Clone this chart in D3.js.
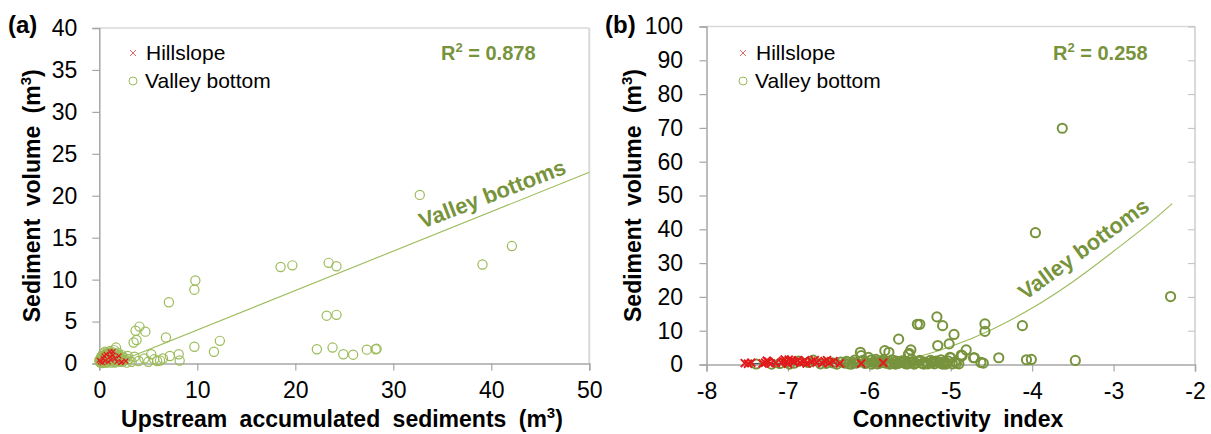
<!DOCTYPE html>
<html><head><meta charset="utf-8">
<script src="https://cdn.jsdelivr.net/npm/d3@7"></script>
<style>body{margin:0;background:#fff}svg{display:block;font-family:"Liberation Sans",Arial,sans-serif}</style>
</head><body><svg id="c" width="1211" height="434"></svg>
<script>
// ---------- data ----------
const xTicksA = [0,10,20,30,40,50];
const yTicksA = [0,5,10,15,20,25,30,35,40];
const xTicksB = [-8,-7,-6,-5,-4,-3,-2];
const yTicksB = [0,10,20,30,40,50,60,70,80,90,100];

const valleyA = [
 [32.7,20.1],[18.5,11.5],[19.7,11.7],[23.4,12.0],[24.2,11.6],[39.1,11.8],[42.1,14.0],[23.2,5.7],[24.2,5.8],
 [22.2,1.7],[23.8,1.9],[24.9,1.1],[25.9,1.05],[27.3,1.65],[28.2,1.7],[28.3,1.75],
 [9.8,9.9],[9.7,8.8],[7.1,7.3],[4.1,4.4],[3.7,3.9],[4.7,3.8],[3.8,2.8],[3.5,2.5],[6.8,3.1],[9.7,2.0],
 [12.3,2.7],[11.7,1.4],[1.7,1.9],[5.3,1.1],[8.1,1.1],[7.2,0.9],[8.2,0.35],[6.2,0.35],[5.6,0.5],[5.9,0.3],
 [6.5,0.6],[4.0,0.3],[3.0,0.5],[2.5,0.7],[4.6,0.6],[5.0,0.2],[3.6,0.8],[2.9,0.9],
 [0.1,0.1],[0.2,0.3],[0.3,0.05],[0.4,0.5],[0.5,0.2],[0.6,0.8],[0.7,0.4],[0.8,0.1],[0.9,0.6],[1.0,1.0],
 [1.1,0.3],[1.2,0.7],[1.3,1.2],[1.4,0.5],[1.5,0.2],[1.6,0.9],[1.7,0.4],[1.8,1.1],[1.9,0.6],[2.0,0.3],
 [2.1,0.8],[2.2,0.5],[2.3,1.0],[2.4,0.2],[0.3,0.7],[0.5,1.0],[0.8,1.3],[1.0,0.5],[1.2,0.1],[1.4,0.9],
 [0.0,0.4],[0.2,0.8],[0.6,0.1],[1.6,0.1],[1.9,1.3],[2.6,0.4],[2.8,0.1],[3.3,0.2],[1.1,1.5],[0.4,1.2],
 [0.05,0.2],[0.15,0.6],[0.25,0.15],[0.35,0.9],[0.45,0.35],[0.55,0.6],[0.65,1.1],[0.75,0.25],[0.85,0.8],[0.95,0.3],
 [1.05,0.7],[1.15,1.1],[1.25,0.35],[1.35,0.8],[1.45,1.3],[1.55,0.5],[1.65,0.25],[1.75,0.8],[1.85,0.45],[1.95,1.0],
 [2.05,0.6],[2.15,0.2],[2.25,0.75],[2.35,0.4],[0.1,0.5],[0.7,0.7],[1.3,0.6],[1.0,1.3],[0.6,1.4],[1.5,1.6]
];
const hillA = [
 [0.1,0.2],[0.3,0.1],[0.4,0.6],[0.6,0.3],[0.7,1.1],[0.9,0.2],[1.1,0.8],[1.2,0.4],[1.4,1.0],[1.6,0.6],
 [1.8,0.2],[2.0,0.9],[2.2,0.1],[0.5,0.9],[2.7,0.3],[1.1,1.4],[1.4,1.4],[0.0,0.4],[2.3,0.2]
];
const trendA = [[1.5,0.0],[50,22.8]];

const valleyB = [
 [-3.63,69.9],[-3.96,39.0],[-2.30,20.1],[-5.17,14.1],[-5.41,11.9],[-5.38,11.9],[-5.10,11.5],[-4.96,8.9],
 [-4.58,12.0],[-4.58,9.8],[-4.12,11.5],[-5.64,7.5],[-5.16,5.6],[-5.02,6.1],[-4.81,4.3],[-4.86,2.6],
 [-4.71,2.0],[-4.41,2.0],[-4.07,1.4],[-4.01,1.5],[-3.47,1.2],[-4.63,0.6],[-4.60,0.4],[-4.93,0.4],
 [-5.01,2.1],[-5.49,4.3],[-5.81,4.1],[-5.76,3.6],[-5.52,3.0],[-6.11,3.6],[-6.10,2.6],[-5.51,3.3],
 [-4.87,2.8],[-4.72,2.0],[-5.00,2.0],[-6.18,1.3],[-6.01,2.1],
 [-7.39,0.15],[-7.10,0.3],[-6.98,0.1],[-6.87,1.0],[-6.69,1.3],[-6.53,0.35],[-6.40,0.1],[-6.30,0.4],
 [-6.25,0.2],[-6.12,0.8],[-6.05,0.3],[-5.95,0.6],[-5.90,0.2],[-5.85,1.0],[-5.80,0.4],[-5.75,0.1],
 [-5.70,0.7],[-5.65,0.3],[-5.60,1.1],[-5.55,0.2],[-5.50,0.6],[-5.45,0.1],[-5.40,0.9],[-5.35,0.3],
 [-5.30,0.5],[-5.25,1.2],[-5.20,0.2],[-5.15,0.7],[-5.10,0.1],[-5.05,0.4],[-5.03,1.0],[-4.98,0.2],
 [-5.58,0.5],[-5.68,0.1],[-5.88,0.8],[-6.20,0.6],[-5.33,0.1],[-5.22,0.9],[-5.12,1.4],[-5.92,1.5],[-5.48,1.5],
 [-6.28,0.9],[-6.22,0.1],[-6.16,0.4],[-6.08,1.2],[-6.03,0.6],[-5.97,0.1],[-5.93,0.9],[-5.87,0.4],[-5.83,1.3],
 [-5.78,0.7],[-5.73,0.3],[-5.67,1.0],[-5.62,0.6],[-5.57,0.9],[-5.53,0.2],[-5.47,0.8],[-5.43,0.4],[-5.38,1.2],
 [-5.32,0.7],[-5.28,0.2],[-5.23,0.5],[-5.18,1.0],[-5.13,0.4],[-5.08,0.8],[-5.06,0.1],[-4.95,0.7],[-4.90,0.2],
 [-6.45,0.5],[-6.60,0.2],[-6.75,0.6],[-6.92,0.4],[-7.02,0.6],[-7.20,0.1],[-6.35,0.7],[-5.98,1.3],[-5.72,1.4]
];
const hillB = [
 [-7.53,0.4],[-7.49,0.2],[-7.45,0.5],[-7.28,0.5],[-7.24,0.8],[-7.21,0.3],[-7.15,0.4],[-7.04,1.5],
 [-7.02,0.8],[-7.08,0.5],[-7.00,0.2],[-6.92,0.8],[-6.85,0.5],[-6.79,1.3],[-6.77,0.3],[-6.67,1.3],
 [-6.65,0.5],[-6.55,1.0],[-6.49,0.5],[-6.44,1.0],[-6.36,0.3],[-6.95,1.2],[-6.10,0.3],[-5.83,0.5],
 [-7.31,0.3],[-7.26,1.1],[-7.06,1.0],[-6.99,1.4],[-6.88,1.2],[-6.81,0.7],[-6.71,0.9],[-6.58,0.4],[-6.52,1.3]
];
const hillTrendB = [[-7.5,0.25],[-5.8,0.45]];
const trendB = [[-5.6,1.2],[-5.5,1.7],[-5.0,5.3],[-4.5,10.3],[-4.0,16.7],[-3.5,24.5],[-3.0,33.5],[-2.5,43.0],[-2.28,47.6]];

// ---------- drawing ----------
const svg = d3.select("#c");
svg.append("rect").attr("width",1211).attr("height",434).attr("fill","#fff");
const GREEN_TXT = "#77933c";

function panel(o){
  const g = svg.append("g");
  const x = d3.scaleLinear().domain(o.xd).range(o.xr);
  const y = d3.scaleLinear().domain(o.yd).range(o.yr);
  g.append("line").attr("x1",o.xr[0]).attr("x2",o.xr[1]).attr("y1",o.yr[1]).attr("y2",o.yr[1]).attr("stroke","#d9d9d9").attr("stroke-width",1.5);
  g.append("line").attr("x1",o.xr[1]).attr("x2",o.xr[1]).attr("y1",o.yr[1]).attr("y2",o.yr[0]).attr("stroke","#d9d9d9").attr("stroke-width",2);
  const ax = g.append("g").attr("transform",`translate(0,${o.yr[0]})`)
    .call(d3.axisBottom(x).tickValues(o.xt).tickSize(7).tickPadding(11).tickFormat(d=>String(d)));
  const ay = g.append("g").attr("transform",`translate(${o.xr[0]},0)`)
    .call(d3.axisLeft(y).tickValues(o.yt).tickSize(7).tickPadding(o.ypad).tickFormat(d=>String(d)));
  [ax,ay].forEach(a=>{
    a.select(".domain").attr("stroke","#a6a6a6").attr("stroke-width",1.5);
    a.selectAll(".tick line").attr("stroke","#a6a6a6").attr("stroke-width",1.2);
    a.selectAll("text").attr("font-size",23).attr("fill","#000").attr("font-family",'"Liberation Sans",Arial,sans-serif');
  });
  if(o.rightTicks){
    g.append("g").attr("transform",`translate(${o.xr[1]},0)`)
      .call(d3.axisLeft(y).tickValues(o.yt).tickSize(7).tickFormat(""))
      .call(a=>{a.select(".domain").remove();a.selectAll(".tick line").attr("stroke","#bfbfbf");});
  }
  if(o.hillTrend){
    g.append("path").attr("d",d3.line().x(d=>x(d[0])).y(d=>y(d[1]))(o.hillTrend))
     .attr("fill","none").attr("stroke","#595959").attr("stroke-width",1.5);
  }
  g.append("path").attr("d",d3.line().curve(d3.curveMonotoneX).x(d=>x(d[0])).y(d=>y(d[1]))(o.trend))
   .attr("fill","none").attr("stroke",o.lineColor).attr("stroke-width",1.1);
  g.selectAll("circle.v").data(o.valley).join("circle").attr("class","v")
   .attr("cx",d=>x(d[0])).attr("cy",d=>y(d[1])).attr("r",4.6)
   .attr("fill","none").attr("stroke",o.circColor).attr("stroke-width",o.circW);
  const s = o.xs;
  g.selectAll("path.h").data(o.hill).join("path").attr("class","h")
   .attr("d",d=>{const px=x(d[0]),py=y(d[1]);return `M${px-s},${py-s}L${px+s},${py+s}M${px-s},${py+s}L${px+s},${py-s}`;})
   .attr("stroke",o.xColor).attr("stroke-width",o.xW).attr("fill","none");
  g.append("text").attr("x",o.lblX).attr("y",33).attr("font-size",24).attr("font-weight","bold").text(o.lbl);
  const lx = o.legX;
  g.append("path").attr("d",`M${lx-3},${50}L${lx+3},${56}M${lx-3},${56}L${lx+3},${50}`).attr("stroke","#e06666").attr("stroke-width",1);
  g.append("text").attr("x",lx+13).attr("y",60).attr("font-size",21).text("Hillslope");
  g.append("circle").attr("cx",lx).attr("cy",81).attr("r",4).attr("fill","none").attr("stroke","#9bbb59").attr("stroke-width",1);
  g.append("text").attr("x",lx+12).attr("y",88).attr("font-size",21).text("Valley bottom");
  const r = g.append("text").attr("x",o.r2X).attr("y",60).attr("font-size",20).attr("font-weight","bold").attr("fill",GREEN_TXT);
  r.append("tspan").text("R");
  r.append("tspan").attr("font-size",13).attr("dy",-8).text("2");
  r.append("tspan").attr("dy",8).text(" = " + o.r2);
  g.append("text").attr("transform",`translate(${o.vbX},${o.vbY}) rotate(${o.vbA})`)
   .attr("text-anchor","middle").attr("font-size",22).attr("font-weight","bold").attr("fill",GREEN_TXT).text("Valley bottoms");
  const yt = g.append("text").attr("transform",`translate(${o.ytX},${(o.yr[0]+o.yr[1])/2}) rotate(-90)`)
   .attr("text-anchor","middle").attr("font-size",23).attr("font-weight","bold").attr("word-spacing",6);
  yt.append("tspan").text("Sediment volume (m");
  yt.append("tspan").attr("font-size",15).attr("dy",-9).text("3");
  yt.append("tspan").attr("dy",9).text(")");
  const xt = g.append("text").attr("x",o.xtX).attr("y",427)
   .attr("text-anchor","middle").attr("font-size",23).attr("font-weight","bold").attr("word-spacing",6);
  if(o.xSup){
    xt.append("tspan").text(o.xTitle);
    xt.append("tspan").attr("font-size",15).attr("dy",-9).text("3");
    xt.append("tspan").attr("dy",9).text(")");
  } else xt.text(o.xTitle);
}

panel({xd:[0,50],xr:[99.3,589.3],yd:[0,40],yr:[363.5,28],xt:xTicksA,yt:yTicksA,ypad:15,
  valley:valleyA,hill:hillA,trend:trendA,lineColor:"#9bbb59",circColor:"#9bbb59",circW:1.2,
  xs:2.5,xColor:"#e02020",xW:1.2,lbl:"(a)",lblX:8,legX:133,r2X:441,r2:"0.878",
  vbX:495,vbY:201,vbA:-21,ytX:40,xtX:342,xTitle:"Upstream accumulated sediments (m",xSup:true});
panel({xd:[-8,-2],xr:[706.5,1195],yd:[0,100],yr:[364.5,26.5],xt:xTicksB,yt:yTicksB,ypad:16.5,rightTicks:true,
  valley:valleyB,hill:hillB,trend:trendB,hillTrend:hillTrendB,lineColor:"#9bbb59",circColor:"#77933c",circW:2,
  xs:4,xColor:"#e31a1c",xW:2,lbl:"(b)",lblX:605,legX:743,r2X:1053,r2:"0.258",
  vbX:1088,vbY:255,vbA:-36,ytX:641,xtX:958,xTitle:"Connectivity index",xSup:false});
</script></body></html>
